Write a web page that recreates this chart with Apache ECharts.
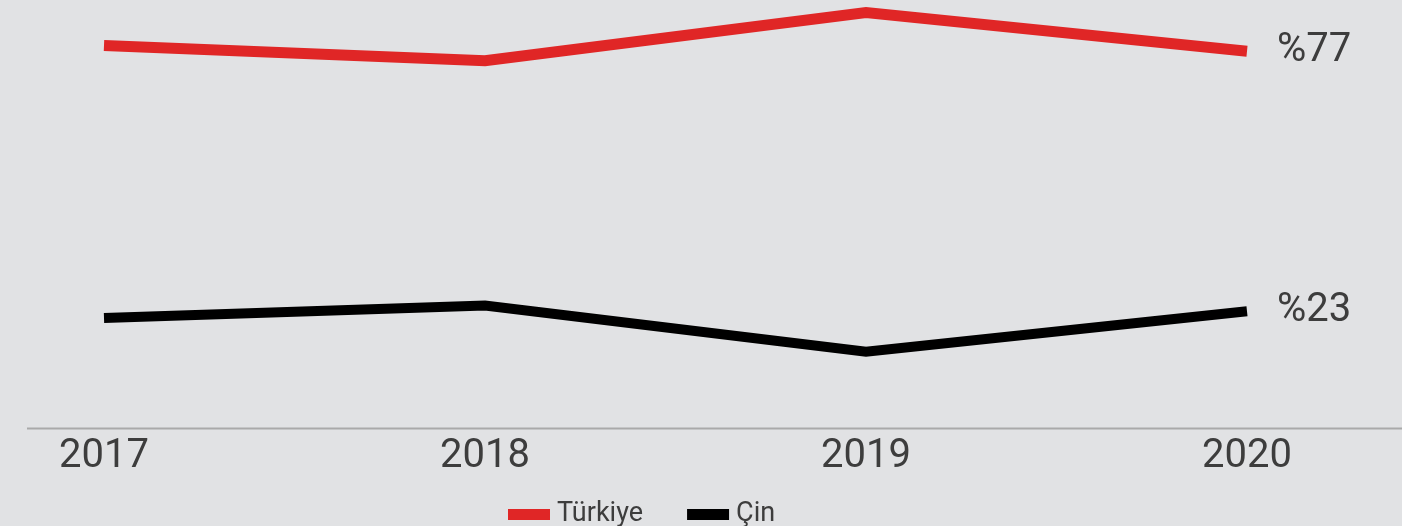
<!DOCTYPE html>
<html>
<head>
<meta charset="utf-8">
<script src="https://cdn.jsdelivr.net/npm/echarts@6/dist/echarts.min.js"></script>
<style>
  html, body { margin: 0; padding: 0; background: #e1e2e4; }
  #chart { width: 1402px; height: 526px; }
</style>
</head>
<body>
<div id="chart"></div>
<script>
// data (share in %)
const years = ['2017', '2018', '2019', '2020']
const turkiye = [78.2, 75, 85, 77]
const cin = [21.6, 24.2, 14.6, 23]

const textColor = '#3d3d3d'
const font = 'Roboto, "Noto Sans", sans-serif'

const chart = echarts.init(document.getElementById('chart'))

const endLabel = {
  show: true,
  formatter: '%{c}',
  distance: 30,
  color: textColor,
  fontSize: 40,
  fontFamily: font
}

chart.setOption({
  backgroundColor: '#e1e2e4',
  animation: false,
  grid: {
    left: 104,
    right: 155,
    top: 3,
    bottom: 104,
    outerBoundsMode: 'none'
  },
  legend: {
    left: 503,
    top: 496,
    icon: 'rect',
    itemWidth: 42,
    itemHeight: 11,
    itemGap: 44,
    textStyle: {
      color: textColor,
      fontSize: 27,
      fontFamily: font,
      padding: [0, 0, 0, 2]
    },
    data: ['Türkiye', 'Çin']
  },
  xAxis: {
    type: 'category',
    boundaryGap: false,
    data: years,
    offset: 6,
    axisLine: { show: false },
    axisTick: { show: false },
    axisLabel: {
      color: textColor,
      fontSize: 40,
      fontFamily: font,
      margin: 9
    }
  },
  yAxis: {
    type: 'value',
    min: 0,
    max: 87,
    show: false,
    splitLine: { show: false }
  },
  graphic: [{
    type: 'line',
    shape: { x1: 27, y1: 428.5, x2: 1402, y2: 428.5 },
    style: { stroke: '#a9a9a9', lineWidth: 2 },
    silent: true
  }],
  series: [
    {
      name: 'Türkiye',
      type: 'line',
      data: turkiye,
      symbol: 'none',
      clip: false,
      color: '#e02626',
      lineStyle: { width: 11, color: '#e02626', cap: 'butt', join: 'miter' },
      endLabel: endLabel
    },
    {
      name: 'Çin',
      type: 'line',
      data: cin,
      symbol: 'none',
      clip: false,
      color: '#000000',
      lineStyle: { width: 10, color: '#000000', cap: 'butt', join: 'miter' },
      endLabel: endLabel
    }
  ]
})
</script>
</body>
</html>
